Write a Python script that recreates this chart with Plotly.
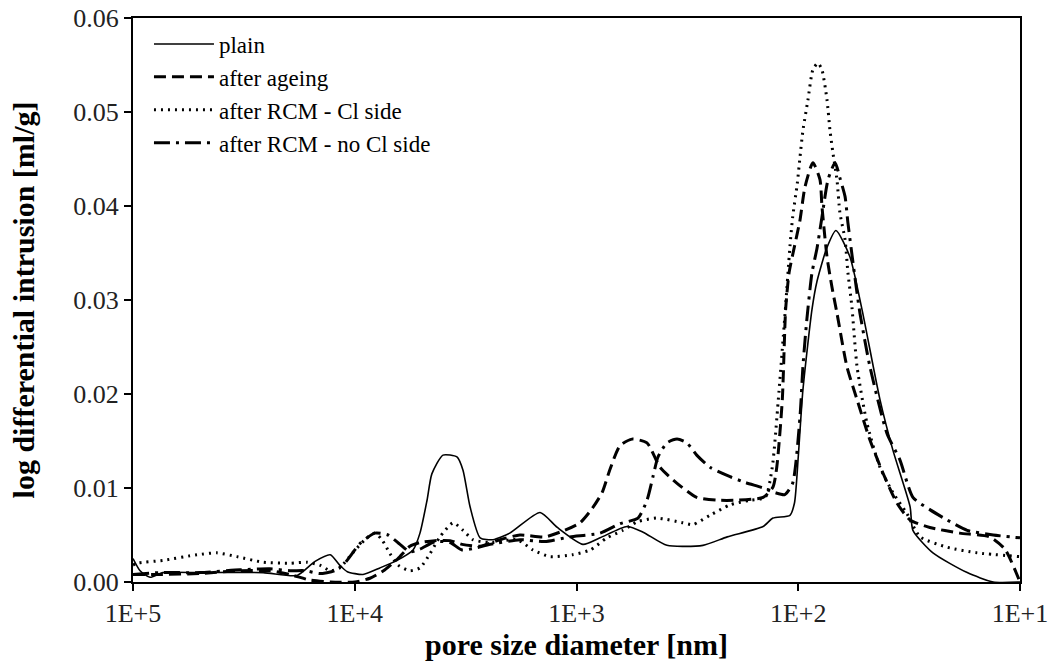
import plotly.graph_objects as go

# ---- data (pore diameter in nm, log differential intrusion in ml/g) ----
plain_d = [100000, 92900, 83800, 73300, 49900, 25900, 18200, 15100, 12900, 11700,
           10800, 9180, 7700, 6440, 5460, 5080, 4720, 4490, 4000, 3460,
           3250, 3020, 2720, 2380, 2000, 1460, 1220, 935, 783, 592,
           501, 391, 269, 209, 144, 130, 109, 104, 100, 95.3,
           86.7, 82.3, 74.2, 67.6, 58.5, 51.6, 42.8, 37.4, 31.3, 30.4,
           24.7, 17.3, 13.2, 10]
plain_v = [0.0025, 0.0012, 0.0005, 0.001, 0.001, 0.001, 0.0007, 0.0022, 0.0029, 0.0018,
           0.0011, 0.0008, 0.0015, 0.0023, 0.0034, 0.0052, 0.0087, 0.0115, 0.0135, 0.0133,
           0.0119, 0.008, 0.0047, 0.0045, 0.0052, 0.0074, 0.0058, 0.004, 0.0047, 0.0059,
           0.0053, 0.0039, 0.0039, 0.0048, 0.0059, 0.0068, 0.0071, 0.0084, 0.0133, 0.0204,
           0.029, 0.032, 0.0356, 0.0374, 0.0346, 0.029, 0.0194, 0.014, 0.008, 0.0055,
           0.0031, 0.001, 0.0, 0.0]

ageing_d = [100000, 75500, 49900, 32900, 24100, 19600, 15900, 12900, 9970, 8540,
            7310, 6380, 5640, 5080, 4350, 3720, 3280, 2720, 2210, 1800,
            1390, 1130, 964, 851, 767, 706, 637, 562, 481, 420,
            352, 287, 232, 189, 144, 130, 125, 118, 114, 110,
            104, 98.2, 93.3, 85.9, 79.8, 78.2, 74.2, 70.5, 66.9, 60.3,
            54.3, 47.5, 41.5, 35.9, 31.3, 25.5, 18.7, 13.7, 11.7, 10]
ageing_v = [0.0008, 0.0008, 0.0009, 0.0012, 0.0012, 0.0008, 0.0002, 0.0, 0.0, 0.0004,
            0.0013, 0.0025, 0.0038, 0.0042, 0.0044, 0.0044, 0.004, 0.0038, 0.0045, 0.005,
            0.0048, 0.0055, 0.0063, 0.0078, 0.0095, 0.012, 0.0145, 0.0152, 0.0148, 0.0122,
            0.0105, 0.009, 0.0087, 0.0087, 0.009, 0.0101, 0.0122, 0.0194, 0.029, 0.0329,
            0.0357, 0.0385, 0.042, 0.0446, 0.0428, 0.040, 0.0346, 0.0314, 0.0286, 0.0229,
            0.0194, 0.0151, 0.0116, 0.0084, 0.0066, 0.0058, 0.0052, 0.0048, 0.0035, 0.0]

cl_d = [100000, 95900, 73300, 51400, 41800, 34000, 25900, 19600, 16400, 14400,
        12900, 11700, 10300, 9000, 8110, 7540, 6930, 6380, 5640, 5080,
        4580, 4130, 3600, 3250, 2930, 2450, 1850, 1570, 1320, 1040,
        869, 728, 617, 533, 434, 331, 299, 250, 203, 165,
        141, 131, 123, 115, 109, 106, 101, 98.2, 95.3, 90.4,
        85.9, 81.5, 78.2, 74.2, 71.9, 69.7, 66.9, 64.9, 61.5, 59.7,
        57.3, 54.3, 49.0, 42.8, 37.4, 32.4, 28.2, 21.3, 15.6, 10]
cl_v = [0.0018, 0.002, 0.0023, 0.0029, 0.0031, 0.0027, 0.0021, 0.002, 0.0021, 0.0018,
        0.0012, 0.0015, 0.003, 0.0045, 0.0052, 0.0045, 0.003, 0.0018, 0.0012, 0.0015,
        0.003, 0.0048, 0.0063, 0.0055, 0.0045, 0.0042, 0.0045, 0.0034, 0.0027, 0.0029,
        0.0034, 0.0047, 0.0055, 0.0064, 0.0068, 0.0063, 0.0061, 0.0071, 0.0082, 0.0087,
        0.009, 0.0122, 0.0194, 0.0282, 0.0357, 0.0388, 0.0424, 0.0452, 0.048, 0.0513,
        0.0545, 0.0552, 0.0545, 0.0513, 0.048, 0.0456, 0.0428, 0.0393, 0.0364, 0.0329,
        0.0293, 0.0229, 0.0169, 0.0122, 0.0095, 0.0073, 0.0048, 0.0037, 0.0031, 0.0027]

nocl_d = [100000, 75500, 49900, 32900, 24100, 19600, 16700, 14400, 12300, 11100,
          9460, 8110, 7080, 6250, 5640, 5080, 4350, 3720, 3280, 2870,
          2450, 1800, 1390, 1070, 783, 637, 528, 481, 452, 429,
          391, 352, 318, 287, 250, 203, 174, 144, 127, 115,
          106, 98.2, 95.3, 91.4, 86.7, 82.3, 78.2, 73.4, 68.2, 64.9,
          61.5, 59.7, 54.3, 52.7, 47.5, 39.8, 34.8, 30.4, 25.5, 21.3,
          17.3, 13.2, 10]
nocl_v = [0.0008, 0.001, 0.001, 0.0013, 0.0014, 0.0012, 0.0012, 0.0009, 0.0012, 0.002,
          0.0041, 0.0052, 0.005, 0.004, 0.0032, 0.0035, 0.0043, 0.0042, 0.0034, 0.0036,
          0.004, 0.0045, 0.0043, 0.0048, 0.0052, 0.0062, 0.0068, 0.0087, 0.0112, 0.0133,
          0.0148, 0.0152, 0.0148, 0.0135, 0.0122, 0.0112, 0.0106, 0.010, 0.0095, 0.0093,
          0.0105, 0.0176, 0.0229, 0.028, 0.0329, 0.0355, 0.0388, 0.0428, 0.0446, 0.043,
          0.041, 0.0382, 0.0307, 0.0286, 0.0229, 0.0158, 0.013, 0.009, 0.0077, 0.0066,
          0.0055, 0.005, 0.0047]

series_names = ["plain", "after ageing", "after RCM - Cl side", "after RCM - no Cl side"]
x_tickvals = [1e5, 1e4, 1e3, 1e2, 1e1]
x_ticktext = ["1E+5", "1E+4", "1E+3", "1E+2", "1E+1"]

FONT = "Liberation Serif, Times New Roman, serif"

fig = go.Figure()
styles = [
    dict(color="black", width=1.6, dash="solid"),
    dict(color="black", width=3, dash="12px,6px"),
    dict(color="black", width=3, dash="2px,5px"),
    dict(color="black", width=3, dash="16px,6px,3px,6px"),
]
data = [(plain_d, plain_v), (ageing_d, ageing_v), (cl_d, cl_v), (nocl_d, nocl_v)]
for (xs, ys), name, st in zip(data, series_names, styles):
    fig.add_trace(go.Scatter(x=xs, y=ys, mode="lines", name=name,
                             line=dict(shape="spline", smoothing=0.6, **st)))

fig.update_layout(
    width=1055, height=665,
    margin=dict(l=133, r=35, t=18, b=83, autoexpand=False),
    paper_bgcolor="white", plot_bgcolor="white",
    font=dict(family=FONT, color="black", size=23),
    showlegend=True,
    legend=dict(x=0.018, y=0.992, xanchor="left", yanchor="top",
                bgcolor="rgba(0,0,0,0)", font=dict(family=FONT, size=23, color="black"),
                itemwidth=60, tracegroupgap=0),
)
fig.update_xaxes(
    type="log", range=[5, 1], tickvals=x_tickvals, ticktext=x_ticktext,
    showgrid=False, zeroline=False, automargin=False,
    showline=True, linecolor="black", linewidth=2, mirror=True,
    ticks="outside", ticklen=7, tickwidth=2, tickcolor="black",
    ticklabeloverflow="allow",
    tickfont=dict(family=FONT, size=26, color="#222"),
    title=dict(text="<b>pore size diameter [nm]</b>", standoff=6,
               font=dict(family=FONT, size=30, color="black")),
)
fig.update_yaxes(
    range=[0, 0.06], dtick=0.01, tickformat=".2f",
    showgrid=False, zeroline=False, automargin=False,
    showline=True, linecolor="black", linewidth=2, mirror=True,
    ticks="outside", ticklen=7, tickwidth=2, tickcolor="black",
    ticklabeloverflow="allow",
    tickfont=dict(family=FONT, size=26, color="#222"),
    title=dict(text="<b>log differential intrusion [ml/g]</b>", standoff=30,
               font=dict(family=FONT, size=30, color="black")),
)

# remove the default page margin so the figure sits at the window's top-left corner
fig.write_html("out.html", config={"displayModeBar": False},
               post_script="document.body.style.margin='0';")
